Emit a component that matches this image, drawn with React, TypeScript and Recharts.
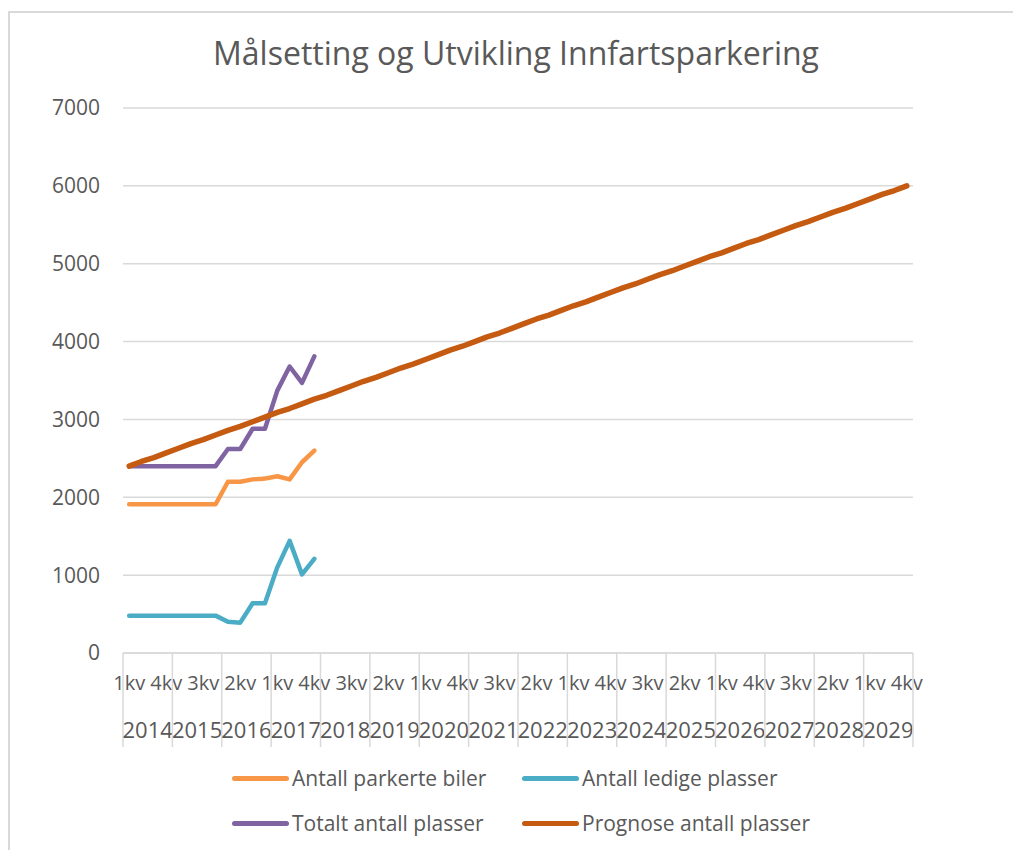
import React from 'react';
import { LineChart, Line, XAxis, YAxis, CartesianGrid, Legend } from 'recharts';

const years = [2014, 2015, 2016, 2017, 2018, 2019, 2020, 2021, 2022, 2023, 2024, 2025, 2026, 2027, 2028, 2029];
const quarterNames = ['1kv', '2kv', '3kv', '4kv'];
const yTicks = [0, 1000, 2000, 3000, 4000, 5000, 6000, 7000];
const seriesNames = ['Antall parkerte biler', 'Antall ledige plasser', 'Totalt antall plasser', 'Prognose antall plasser'];

// measured values, 1kv 2014 - 4kv 2017
const parkerte = [1910, 1910, 1910, 1910, 1910, 1910, 1910, 1910, 2200, 2200, 2230, 2240, 2270, 2230, 2450, 2600];
const ledige = [480, 480, 480, 480, 480, 480, 480, 480, 400, 390, 640, 640, 1100, 1440, 1010, 1210];
const totalt = [2400, 2400, 2400, 2400, 2400, 2400, 2400, 2400, 2620, 2620, 2880, 2880, 3370, 3680, 3470, 3810];

// prognose, one row per year
const prognose = [
  2400, 2460, 2510, 2570,
  2630, 2690, 2740, 2800,
  2860, 2910, 2970, 3030,
  3090, 3140, 3200, 3260,
  3310, 3370, 3430, 3490,
  3540, 3600, 3660, 3710,
  3770, 3830, 3890, 3940,
  4000, 4060, 4110, 4170,
  4230, 4290, 4340, 4400,
  4460, 4510, 4570, 4630,
  4690, 4740, 4800, 4860,
  4910, 4970, 5030, 5090,
  5140, 5200, 5260, 5310,
  5370, 5430, 5490, 5540,
  5600, 5660, 5710, 5770,
  5830, 5890, 5940, 6000,
];

const categories = years.flatMap((y) => quarterNames.map((q) => `${q} ${y}`));

const data = categories.map((key, i) => ({
  key,
  parkerte: parkerte[i] ?? null,
  ledige: ledige[i] ?? null,
  totalt: totalt[i] ?? null,
  prognose: prognose[i] ?? null,
}));

const FONT = '"Open Sans", sans-serif';
const TEXT = '#595959';
const GRID = '#d9d9d9';

const YearTick = (props: any) => {
  const { x, y, width, payload, index } = props;
  const n = categories.length;
  const band = (width || 790) / n;
  const i = payload?.index ?? index;
  const year = String(payload.value).split(' ')[1];
  return (
    <g>
      {i % 4 === 0 && (
        <line x1={x - band / 2} x2={x - band / 2} y1={y - 40} y2={y + 54} stroke={GRID} strokeWidth={1.5} />
      )}
      {i === n - 1 && (
        <line x1={x + band / 2} x2={x + band / 2} y1={y - 40} y2={y + 54} stroke={GRID} strokeWidth={1.5} />
      )}
      {i % 4 === 1 && (
        <text x={x + band / 2} y={y + 45} textAnchor="middle" fill={TEXT} fontSize={22} fontFamily={FONT}>
          {year}
        </text>
      )}
    </g>
  );
};

const LegendContent = (props: any) => {
  const items = [...(props.payload || [])].sort(
    (a: any, b: any) => seriesNames.indexOf(a.value) - seriesNames.indexOf(b.value)
  );
  return (
    <div style={{ position: 'relative', width: 1003, height: 100, fontFamily: FONT, fontSize: 21, color: TEXT }}>
      {items.map((it: any, i: number) => (
        <div
          key={it.value}
          style={{
            position: 'absolute',
            left: i % 2 ? 512 : 222,
            top: (i < 2 ? 40 : 85) - 14,
            height: 28,
            display: 'flex',
            alignItems: 'center',
            whiteSpace: 'nowrap',
          }}
        >
          <span style={{ display: 'inline-block', width: 57, height: 5, borderRadius: 3, background: it.color }} />
          <span style={{ marginLeft: 3 }}>{it.value}</span>
        </div>
      ))}
    </div>
  );
};

const App = () => {
  return (
    <div
      style={{
        position: 'fixed',
        left: 8,
        top: 11,
        width: 1003,
        height: 837,
        borderTop: `2px solid ${GRID}`,
        borderLeft: `2px solid ${GRID}`,
        background: '#fff',
        overflow: 'hidden',
      }}
    >
      <div
        style={{
          position: 'absolute',
          left: 0,
          top: 24,
          width: 1003,
          paddingLeft: 9,
          boxSizing: 'border-box',
          textAlign: 'center',
          fontFamily: FONT,
          fontSize: 32,
          lineHeight: '32px',
          color: TEXT,
          zIndex: 1,
        }}
      >
        Målsetting og Utvikling Innfartsparkering
      </div>
      <LineChart width={1003} height={837} data={data} margin={{ top: 95, right: 100, left: 0, bottom: 12 }}>
        <CartesianGrid xAxisId="q" vertical={false} stroke={GRID} strokeWidth={1.5} />
        <XAxis
          xAxisId="q"
          dataKey="key"
          scale="band"
          interval={2}
          height={40}
          tickLine={false}
          tickSize={0}
          tickMargin={23}
          axisLine={{ stroke: GRID, strokeWidth: 1.5 }}
          tickFormatter={(v: string) => String(v).split(' ')[0]}
          tick={{ fill: TEXT, fontSize: 20, fontFamily: FONT }}
        />
        <XAxis
          xAxisId="y"
          dataKey="key"
          scale="band"
          interval={0}
          height={45}
          tickLine={false}
          tickSize={0}
          tickMargin={0}
          axisLine={false}
          tick={<YearTick />}
        />
        <YAxis
          domain={[0, 7000]}
          ticks={yTicks}
          width={113}
          axisLine={false}
          tickLine={false}
          tickSize={0}
          tickMargin={23}
          tick={{ fill: TEXT, fontSize: 21, fontFamily: FONT }}
        />
        <Legend verticalAlign="bottom" height={100} wrapperStyle={{ left: 0, width: 1003 }} content={<LegendContent />} />
        <Line xAxisId="q" type="linear" dataKey="parkerte" name="Antall parkerte biler" stroke="#F79646" strokeWidth={4.5} dot={false} strokeLinecap="round" strokeLinejoin="round" isAnimationActive={false} />
        <Line xAxisId="q" type="linear" dataKey="ledige" name="Antall ledige plasser" stroke="#4BACC6" strokeWidth={4.5} dot={false} strokeLinecap="round" strokeLinejoin="round" isAnimationActive={false} />
        <Line xAxisId="q" type="linear" dataKey="totalt" name="Totalt antall plasser" stroke="#8064A2" strokeWidth={4.5} dot={false} strokeLinecap="round" strokeLinejoin="round" isAnimationActive={false} />
        <Line xAxisId="q" type="linear" dataKey="prognose" name="Prognose antall plasser" stroke="#C55A11" strokeWidth={5.5} dot={false} strokeLinecap="round" strokeLinejoin="round" isAnimationActive={false} />
      </LineChart>
    </div>
  );
};

export default App;
